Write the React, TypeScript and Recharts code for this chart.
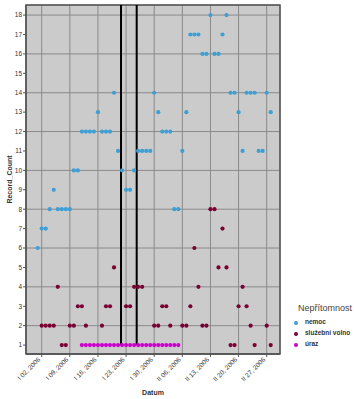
import React from 'react';
import {
  ScatterChart,
  Scatter,
  XAxis,
  YAxis,
  CartesianGrid,
  ReferenceLine,
  ReferenceArea,
  Legend,
} from 'recharts';

const FONT = '"Liberation Sans", Arial, sans-serif';

// Day numbers: 1 = Jan 1 2006, 32 = Feb 1 2006
const xTickDays = [2, 9, 16, 23, 30, 37, 44, 51, 58];
const xTickLabels = [
  'I 02, 2006',
  'I 09, 2006',
  'I 16, 2006',
  'I 23, 2006',
  'I 30, 2006',
  'II 06, 2006',
  'II 13, 2006',
  'II 20, 2006',
  'II 27, 2006',
];
const yTicks = [1, 2, 3, 4, 5, 6, 7, 8, 9, 10, 11, 12, 13, 14, 15, 16, 17, 18];

const seriesNames = ['nemoc', 'služební volno', 'úraz'];
const seriesColors = ['#3d9fd4', '#7a0032', '#cc00cc'];

const nemocDays = [
  1, 2, 3, 4, 5, 6, 7, 8, 9, 10, 11, 12, 13, 14, 15, 16, 17, 18, 19, 20,
  21, 22, 23, 24, 25, 26, 27, 28, 29, 30, 31, 32, 33, 34, 35, 36, 37, 38, 39, 40,
  41, 42, 43, 44, 45, 46, 47, 48, 49, 50, 51, 52, 53, 54, 55, 56, 57, 58, 59,
];
const nemocCounts = [
  6, 7, 7, 8, 9, 8, 8, 8, 8, 10, 10, 12, 12, 12, 12, 13, 12, 12, 12, 14,
  11, 10, 9, 9, 10, 11, 11, 11, 11, 14, 13, 12, 12, 12, 8, 8, 11, 13, 17, 17,
  17, 16, 16, 18, 16, 16, 17, 18, 14, 14, 13, 11, 14, 14, 14, 11, 11, 14, 13,
];

const volnoDays = [
  2, 3, 4, 5, 6, 7, 8, 9, 10, 11, 12, 13, 17, 18, 19, 20, 23, 24, 25, 26, 27,
  30, 31, 32, 33, 34, 37, 38, 39, 40, 41, 42, 43, 44, 45, 46, 47, 48, 49, 50,
  51, 52, 53, 54, 55, 58, 59,
];
const volnoCounts = [
  2, 2, 2, 2, 4, 1, 1, 2, 2, 3, 3, 2, 2, 3, 3, 5, 3, 3, 4, 4, 4,
  2, 2, 3, 3, 2, 2, 2, 3, 6, 4, 2, 2, 8, 8, 5, 7, 5, 1, 1,
  3, 4, 3, 2, 1, 2, 1,
];

const urazDays = [
  12, 13, 14, 15, 16, 17, 18, 19, 20, 21, 22, 23, 24, 25, 26, 27, 28, 29, 30,
  31, 32, 33, 34, 35, 36,
];
const urazCounts = [
  1, 1, 1, 1, 1, 1, 1, 1, 1, 1, 1, 1, 1, 1, 1, 1, 1, 1, 1,
  1, 1, 1, 1, 1, 1,
];

// Vertical marker lines (in day units)
const markerDays = [21.74, 25.64];

const X_DOMAIN: [number, number] = [-1.91, 61.31];
const Y_DOMAIN: [number, number] = [0.54, 18.52];

const toPoints = (days: number[], counts: number[]) =>
  days.map((d, i) => ({ day: d, count: counts[i] }));

const nemocData = toPoints(nemocDays, nemocCounts);
const volnoData = toPoints(volnoDays, volnoCounts);
const urazData = toPoints(urazDays, urazCounts);

const makeDot = (color: string) => (p: any) =>
  <circle cx={p.cx} cy={p.cy} r={2.1} fill={color} />;

const XTick = (props: any) => {
  const { x, y, payload } = props;
  const idx = xTickDays.indexOf(payload.value);
  return (
    <g transform={`translate(${x - 1},${y + 3})`}>
      <text
        x={0}
        y={0}
        textAnchor="end"
        transform="rotate(-45)"
        fontSize={6.5}
        fontFamily={FONT}
        fill="#333"
      >
        {idx >= 0 ? xTickLabels[idx] : ''}
      </text>
    </g>
  );
};

const LegendContent = () => (
  <div style={{ fontFamily: FONT, color: '#444', lineHeight: 1 }}>
    <div style={{ fontSize: 9, height: 9, marginBottom: 4, marginLeft: 5 }}>
      Nepřítomnost
    </div>
    {seriesNames.map((n, i) => (
      <div key={n} style={{ display: 'flex', alignItems: 'center', height: 11 }}>
        <svg width={6} height={6} style={{ display: 'block' }}>
          <circle cx={3} cy={3} r={2} fill={seriesColors[i]} />
        </svg>
        <span style={{ fontSize: 6.5, fontWeight: 'bold', marginLeft: 6, color: '#333' }}>{n}</span>
      </div>
    ))}
  </div>
);

export default function App() {
  return (
    <div style={{ position: 'absolute', left: 0, top: 0, width: 354, height: 399, background: '#fff' }}>
      <ScatterChart
        width={354}
        height={399}
        margin={{ top: 5, right: 74, bottom: 0, left: 6 }}
      >
        <CartesianGrid
          fill="#cbcbcb"
          stroke="#8a8a8a"
          strokeWidth={1}
        />
        <XAxis
          type="number"
          dataKey="day"
          domain={X_DOMAIN}
          ticks={xTickDays}
          allowDataOverflow
          height={45}
          tickSize={3}
          tickMargin={0}
          tick={<XTick />}
          axisLine={{ stroke: '#555', strokeWidth: 1.5 }}
          tickLine={{ stroke: '#555' }}
          label={{
            value: 'Datum',
            position: 'insideBottom',
            offset: 4,
            style: { fontSize: 7, fontWeight: 'bold', fill: '#333', fontFamily: FONT },
          }}
        />
        <YAxis
          type="number"
          dataKey="count"
          domain={Y_DOMAIN}
          ticks={yTicks}
          allowDataOverflow
          width={20}
          tickSize={3}
          tickMargin={1}
          tick={{ fontSize: 6.5, fill: '#333', fontFamily: FONT }}
          axisLine={{ stroke: '#555', strokeWidth: 1 }}
          tickLine={{ stroke: '#555' }}
          label={{
            value: 'Record_Count',
            angle: -90,
            position: 'center',
            dx: -6,
            style: { fontSize: 7, fontWeight: 'bold', fill: '#333', fontFamily: FONT, textAnchor: 'middle' },
          }}
        />
        <ReferenceArea
          x1={X_DOMAIN[0]}
          x2={X_DOMAIN[1]}
          y1={Y_DOMAIN[0]}
          y2={Y_DOMAIN[1]}
          fill="none"
          fillOpacity={0}
          stroke="#555"
          strokeWidth={1.5}
        />
        {markerDays.map((d) => (
          <ReferenceLine
            key={d}
            segment={[
              { x: d, y: 1 },
              { x: d, y: Y_DOMAIN[1] },
            ]}
            stroke="#000"
            strokeWidth={2}
          />
        ))}
        <Scatter
          name={seriesNames[0]}
          data={nemocData}
          fill={seriesColors[0]}
          shape={makeDot(seriesColors[0])}
          isAnimationActive={false}
        />
        <Scatter
          name={seriesNames[1]}
          data={volnoData}
          fill={seriesColors[1]}
          shape={makeDot(seriesColors[1])}
          isAnimationActive={false}
        />
        <Scatter
          name={seriesNames[2]}
          data={urazData}
          fill={seriesColors[2]}
          shape={makeDot(seriesColors[2])}
          isAnimationActive={false}
        />
        <Legend
          layout="vertical"
          align="center"
          verticalAlign="middle"
          content={() => <LegendContent />}
          wrapperStyle={{ position: 'absolute', left: 293, top: 304, width: 61, height: 'auto' }}
        />
      </ScatterChart>
    </div>
  );
}
